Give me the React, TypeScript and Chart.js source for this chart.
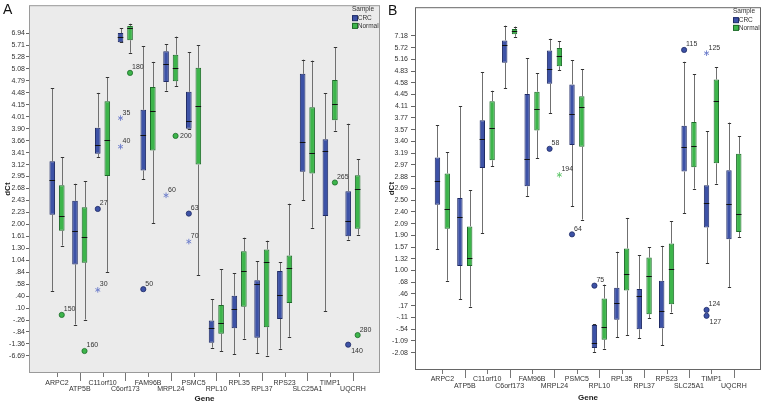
import React, { useEffect, useRef } from 'react';
import { Chart, registerables } from 'chart.js';

Chart.register(...registerables);

// ---------- data ----------
const genes = ['ARPC2', 'ATP5B', 'C11orf10', 'C6orf173', 'FAM96B', 'MRPL24', 'PSMC5', 'RPL10', 'RPL35', 'RPL37', 'RPS23', 'SLC25A1', 'TIMP1', 'UQCRH'];
const seriesNames = ['CRC', 'Normal'];

// y-axis tick labels, top to bottom (evenly spaced axis positions 27 .. 0)
const yTicksA = ['6.94', '5.71', '5.28', '5.08', '4.79', '4.48', '4.15', '4.01', '3.90', '3.66', '3.41', '3.12', '2.95', '2.68', '2.43', '2.23', '2.00', '1.61', '1.30', '1.04', '.84', '.58', '.40', '.10', '-.26', '-.84', '-1.36', '-6.69'];
const yTicksB = ['7.18', '5.72', '5.16', '4.83', '4.58', '4.45', '4.11', '3.77', '3.57', '3.40', '3.19', '2.97', '2.88', '2.69', '2.50', '2.40', '2.09', '1.90', '1.57', '1.32', '1.00', '.68', '.46', '.17', '-.11', '-.54', '-1.09', '-2.08'];

// Panel A (values in axis-position units)
const aCrcMin = [5.44, 2.62, 16.6, 26.24, 14.78, 22.18, 18.99, 0.69, 0.14, 0.25, 0.6, 13.01, 3.73, 9.72];
const aCrcQ1 = [11.8, 7.65, 16.9, 26.24, 15.5, 22.9, 18.99, 1.1, 2.32, 1.52, 3.09, 15.41, 11.71, 10.0];
const aCrcMed = [14.7, 10.41, 17.68, 26.67, 18.5, 24.42, 19.68, 2.35, 3.95, 5.99, 5.11, 17.9, 17.13, 11.3];
const aCrcQ3 = [16.27, 12.97, 19.09, 27.0, 20.58, 25.47, 22.09, 2.96, 5.03, 6.33, 7.1, 23.59, 18.12, 13.78];
const aCrcMax = [22.4, 14.4, 22.0, 27.42, 25.88, 26.08, 25.39, 4.75, 6.9, 7.93, 7.85, 24.78, 21.96, 19.42];

const aNorMin = [9.23, 3.04, 7.02, 25.35, 11.1, 22.57, 6.74, 0.39, 1.44, 0.03, 1.6, 10.72, 18.84, 10.14];
const aNorQ1 = [10.47, 7.79, 15.04, 26.4, 17.18, 22.98, 16.0, 1.85, 4.12, 2.4, 4.42, 15.25, 19.7, 10.64];
const aNorMed = [11.66, 9.92, 18.04, 27.42, 20.5, 24.09, 20.91, 2.73, 7.13, 7.85, 7.32, 16.93, 21.1, 14.0];
const aNorQ3 = [14.28, 12.44, 21.3, 27.6, 22.49, 25.19, 24.09, 4.25, 8.76, 8.9, 8.4, 20.8, 23.07, 15.11];
const aNorMax = [16.6, 14.6, 23.29, 27.78, 24.59, 26.71, 25.97, 7.24, 9.89, 9.64, 12.73, 24.7, 25.83, 16.44];

const aOutliers = [
  { gene: 2, series: 0, value: 12.29, label: '27', kind: 'circle' },
  { gene: 2, series: 0, value: 5.52, label: '30', kind: 'star' },
  { gene: 3, series: 0, value: 19.89, label: '35', kind: 'star' },
  { gene: 3, series: 0, value: 17.5, label: '40', kind: 'star' },
  { gene: 4, series: 0, value: 5.58, label: '50', kind: 'circle' },
  { gene: 5, series: 0, value: 13.43, label: '60', kind: 'star' },
  { gene: 6, series: 0, value: 11.9, label: '63', kind: 'circle' },
  { gene: 6, series: 0, value: 9.56, label: '70', kind: 'star' },
  { gene: 13, series: 0, value: 0.94, label: '140', kind: 'circle', pos: 'below' },
  { gene: 0, series: 1, value: 3.43, label: '150', kind: 'circle' },
  { gene: 1, series: 1, value: 0.41, label: '160', kind: 'circle' },
  { gene: 3, series: 1, value: 23.67, label: '180', kind: 'circle' },
  { gene: 5, series: 1, value: 18.4, label: '200', kind: 'circle', pos: 'right' },
  { gene: 12, series: 1, value: 14.5, label: '265', kind: 'circle' },
  { gene: 13, series: 1, value: 1.74, label: '280', kind: 'circle' },
];

// Panel B
const bCrcMin = [8.8, 4.54, 10.2, 22.55, 13.36, 20.42, 12.46, 0.06, 1.32, 1.23, 0.62, 11.88, 7.62, 5.6];
const bCrcQ1 = [12.6, 7.39, 15.74, 24.71, 14.17, 22.91, 17.7, 0.39, 2.8, 1.99, 2.07, 15.43, 10.67, 9.66];
const bCrcMed = [14.62, 11.6, 18.18, 26.19, 16.5, 24.15, 20.36, 0.84, 4.26, 4.79, 3.56, 17.56, 12.77, 12.63];
const bCrcQ3 = [16.64, 13.17, 19.8, 26.61, 22.05, 25.74, 22.86, 2.35, 5.52, 5.43, 6.13, 19.33, 14.26, 15.55];
const bCrcMax = [19.38, 20.98, 23.92, 27.87, 25.07, 26.75, 24.9, 2.44, 8.6, 8.32, 9.1, 24.79, 18.88, 19.61];

const bNorMin = [6.13, 3.92, 15.88, 26.92, 16.55, 24.06, 11.34, 0.34, 1.51, 2.91, 3.42, 13.98, 14.4, 9.86];
const bNorQ1 = [10.56, 7.39, 16.39, 27.14, 18.94, 24.4, 17.54, 1.09, 5.29, 3.28, 4.12, 15.8, 16.13, 10.28];
const bNorMed = [12.24, 8.04, 19.16, 27.37, 20.76, 25.27, 20.92, 2.21, 6.72, 6.5, 7.11, 17.65, 21.48, 11.79];
const bNorQ3 = [15.27, 10.76, 21.43, 27.59, 22.24, 25.97, 21.85, 4.62, 8.88, 8.1, 9.3, 19.66, 23.28, 16.95];
const bNorMax = [17.06, 13.84, 22.32, 27.79, 23.81, 26.53, 24.15, 5.8, 11.48, 8.99, 11.2, 23.73, 24.34, 18.46];

const bOutliers = [
  { gene: 5, series: 0, value: 17.37, label: '58', kind: 'circle' },
  { gene: 6, series: 0, value: 10.08, label: '64', kind: 'circle' },
  { gene: 7, series: 0, value: 5.71, label: '75', kind: 'circle' },
  { gene: 11, series: 0, value: 25.8, label: '115', kind: 'circle' },
  { gene: 12, series: 0, value: 3.64, label: '124', kind: 'circle' },
  { gene: 12, series: 0, value: 3.14, label: '127', kind: 'circle', pos: 'below' },
  { gene: 12, series: 0, value: 25.52, label: '125', kind: 'star' },
  { gene: 5, series: 1, value: 15.15, label: '194', kind: 'star' },
];

// ---------- styles ----------
const FONT = "'Liberation Sans', Arial, sans-serif";
const FILL = ['#3d52a6', '#3db54b'];
const LINE = ['#1f2b66', '#1d6b29'];
const STAR = ['#6b7ccb', '#5fc66a'];

const boxExtras: any = {
  id: 'boxExtras',
  beforeDraw(chart: any, _a: any, o: any) {
    const { ctx, chartArea: ca } = chart;
    ctx.save();
    ctx.fillStyle = o.bg;
    ctx.fillRect(ca.left, ca.top, ca.width, ca.height);
    ctx.restore();
  },
  afterDatasetsDraw(chart: any, _a: any, o: any) {
    const { ctx } = chart;
    const ys = chart.scales.y;
    const py = (v: number) => ys.getPixelForValue(v);
    o.stats.forEach((st: any, s: number) => {
      const meta = chart.getDatasetMeta(s);
      meta.data.forEach((el: any, i: number) => {
        const { x, width } = el.getProps(['x', 'width'], true);
        const cx = Math.round(x) + 0.5;
        const cw = Math.max(3, width * 0.6);
        ctx.save();
        ctx.lineWidth = 1;
        ctx.strokeStyle = '#707070';
        ctx.beginPath();
        ctx.moveTo(cx, py(st.q3[i]));
        ctx.lineTo(cx, py(st.max[i]));
        ctx.moveTo(cx, py(st.q1[i]));
        ctx.lineTo(cx, py(st.min[i]));
        ctx.stroke();
        ctx.strokeStyle = '#333';
        ctx.beginPath();
        const yMax = Math.round(py(st.max[i])) + 0.5;
        const yMin = Math.round(py(st.min[i])) + 0.5;
        ctx.moveTo(cx - cw / 2, yMax);
        ctx.lineTo(cx + cw / 2, yMax);
        ctx.moveTo(cx - cw / 2, yMin);
        ctx.lineTo(cx + cw / 2, yMin);
        ctx.stroke();
        ctx.strokeStyle = '#111';
        ctx.beginPath();
        const yMed = Math.round(py(st.med[i])) + 0.5;
        ctx.moveTo(x - width / 2, yMed);
        ctx.lineTo(x + width / 2, yMed);
        ctx.stroke();
        ctx.restore();
      });
    });
    o.outliers.forEach((p: any) => {
      const el = chart.getDatasetMeta(p.series).data[p.gene];
      const x = el.x;
      const y = py(p.value);
      ctx.save();
      if (p.kind === 'circle') {
        ctx.fillStyle = FILL[p.series];
        ctx.strokeStyle = LINE[p.series];
        ctx.lineWidth = 0.8;
        ctx.beginPath();
        ctx.arc(x, y, 2.6, 0, Math.PI * 2);
        ctx.fill();
        ctx.stroke();
      } else {
        ctx.strokeStyle = STAR[p.series];
        ctx.lineWidth = 0.9;
        ctx.beginPath();
        const r = 2.8;
        for (let k = 0; k < 3; k++) {
          const ang = Math.PI / 2 + (k * Math.PI) / 3;
          ctx.moveTo(x - r * Math.cos(ang), y - r * Math.sin(ang));
          ctx.lineTo(x + r * Math.cos(ang), y + r * Math.sin(ang));
        }
        ctx.stroke();
      }
      ctx.fillStyle = '#333';
      ctx.font = `7px ${FONT}`;
      ctx.textAlign = 'left';
      ctx.textBaseline = 'middle';
      if (p.pos === 'below') ctx.fillText(p.label, x + 3, y + 6.5);
      else if (p.pos === 'right') ctx.fillText(p.label, x + 4.5, y);
      else ctx.fillText(p.label, x + 2, y - 5.5);
      ctx.restore();
    });
  },
  afterDraw(chart: any, _a: any, o: any) {
    const { ctx, chartArea: ca } = chart;
    const xs = chart.scales.x;
    ctx.save();
    // frame
    ctx.strokeStyle = o.frame;
    ctx.lineWidth = 1;
    ctx.strokeRect(ca.left + 0.5, ca.top + 0.5, ca.width - 1, ca.height - 1);
    // staggered x ticks
    ctx.strokeStyle = '#777';
    ctx.beginPath();
    genes.forEach((_g, i) => {
      const px = Math.round(xs.getPixelForValue(i)) + 0.5;
      ctx.moveTo(px, ca.bottom);
      ctx.lineTo(px, ca.bottom + (i % 2 ? 8 : 4));
    });
    ctx.stroke();
    // legend
    const r = ca.right;
    ctx.font = `6.5px ${FONT}`;
    ctx.fillStyle = '#333';
    ctx.textBaseline = 'middle';
    ctx.textAlign = 'center';
    ctx.fillText('Sample', r - 17, ca.top + 4);
    seriesNames.forEach((nm, s) => {
      const yy = ca.top + 10 + s * 7.7;
      ctx.fillStyle = FILL[s];
      ctx.fillRect(r - 28, yy, 5.5, 5.5);
      ctx.strokeStyle = LINE[s];
      ctx.strokeRect(r - 27.5, yy + 0.5, 5, 5);
      ctx.fillStyle = '#333';
      ctx.textAlign = 'left';
      ctx.fillText(nm, r - 22.3, yy + 3);
    });
    // panel letter
    ctx.font = `14px ${FONT}`;
    ctx.fillStyle = '#111';
    ctx.textAlign = 'left';
    ctx.textBaseline = 'alphabetic';
    ctx.fillText(o.letter, o.letterX, o.letterY);
    ctx.restore();
  },
};

function makeConfig(p: any): any {
  const mk = (st: any) => genes.map((_g, i) => ({ x: i, y: [st.q1[i], st.q3[i]] }));
  return {
    type: 'bar',
    data: {
      datasets: p.stats.map((st: any, s: number) => ({
        label: seriesNames[s],
        data: mk(st),
        backgroundColor: FILL[s],
        borderColor: LINE[s],
        borderWidth: 1,
        borderSkipped: false,
        categoryPercentage: p.catPct,
        barPercentage: p.barPct,
      })),
    },
    options: {
      responsive: false,
      animation: false,
      layout: { padding: { left: 0, right: p.padRight, top: 2, bottom: 0 } },
      plugins: {
        legend: { display: false },
        tooltip: { enabled: false },
        boxExtras: p,
      },
      scales: {
        x: {
          type: 'linear',
          min: p.xMin,
          max: p.xMax,
          offset: false,
          grid: { display: false, drawTicks: false, offset: false },
          border: { display: false },
          afterBuildTicks: (sc: any) => {
            sc.ticks = genes.map((_g, i) => ({ value: i }));
          },
          afterFit: (sc: any) => {
            sc.height = p.xHeight;
          },
          ticks: {
            autoSkip: false,
            maxRotation: 0,
            minRotation: 0,
            padding: p.xPad,
            color: '#333',
            font: { family: FONT, size: 7, lineHeight: '6.5px' },
            callback: (v: number) => (v % 2 ? ['', genes[v]] : genes[v]),
          },
          title: {
            display: true,
            text: 'Gene',
            color: '#222',
            font: { family: FONT, size: 8, weight: 'bold' },
            padding: { top: 0, bottom: p.titlePadBottom },
          },
        },
        y: {
          type: 'linear',
          min: p.yMin,
          max: p.yMax,
          grid: { drawOnChartArea: false, drawTicks: true, tickLength: p.tickLen, color: '#666' },
          border: { display: false },
          afterBuildTicks: (sc: any) => {
            sc.ticks = p.yTicks.map((_t: string, i: number) => ({ value: i }));
          },
          afterFit: (sc: any) => {
            sc.width = p.yWidth;
          },
          ticks: {
            autoSkip: false,
            padding: p.tickPad,
            color: '#333',
            font: { family: FONT, size: 7 },
            callback: (v: number) => p.yTicks[p.yTicks.length - 1 - v],
          },
          title: {
            display: true,
            text: 'dCt',
            color: '#222',
            font: { family: FONT, size: 8, weight: 'bold' },
            padding: { top: 3, bottom: 0 },
          },
        },
      },
    },
    plugins: [boxExtras],
  };
}

const panelA = {
  letter: 'A', letterX: 3, letterY: 14,
  stats: [
    { min: aCrcMin, q1: aCrcQ1, med: aCrcMed, q3: aCrcQ3, max: aCrcMax },
    { min: aNorMin, q1: aNorQ1, med: aNorMed, q3: aNorQ3, max: aNorMax },
  ],
  outliers: aOutliers,
  yTicks: yTicksA,
  yMin: -1.43, yMax: 29.33, xMin: -1.23, xMax: 14.19,
  yWidth: 29, xHeight: 32, padRight: 4,
  catPct: 0.835, barPct: 0.59,
  bg: '#ebebeb', frame: '#9a9a9a',
  tickLen: 3, tickPad: 1, xPad: 6.4, titlePadBottom: 1.2,
};

const panelB = {
  letter: 'B', letterX: 4, letterY: 15,
  stats: [
    { min: bCrcMin, q1: bCrcQ1, med: bCrcMed, q3: bCrcQ3, max: bCrcMax },
    { min: bNorMin, q1: bNorQ1, med: bNorMed, q3: bNorQ3, max: bNorMax },
  ],
  outliers: bOutliers,
  yTicks: yTicksB,
  yMin: -1.48, yMax: 29.44, xMin: -1.22, xMax: 14.21,
  yWidth: 31, xHeight: 35, padRight: 1,
  catPct: 0.874, barPct: 0.55,
  bg: '#ffffff', frame: '#666666',
  tickLen: 4, tickPad: 3, xPad: 6, titlePadBottom: 2.5,
};

export default function App() {
  const refA = useRef<HTMLCanvasElement>(null);
  const refB = useRef<HTMLCanvasElement>(null);
  useEffect(() => {
    document.body.style.margin = '0';
    const a = new Chart(refA.current as HTMLCanvasElement, makeConfig(panelA));
    const b = new Chart(refB.current as HTMLCanvasElement, makeConfig(panelB));
    return () => {
      a.destroy();
      b.destroy();
    };
  }, []);
  return (
    <div style={{ position: 'relative', width: 762, height: 405, background: '#fff', overflow: 'hidden' }}>
      <canvas ref={refA} width={384} height={405} style={{ position: 'absolute', left: 0, top: 0, width: 384, height: 405 }} />
      <canvas ref={refB} width={378} height={405} style={{ position: 'absolute', left: 384, top: 0, width: 378, height: 405 }} />
    </div>
  );
}
